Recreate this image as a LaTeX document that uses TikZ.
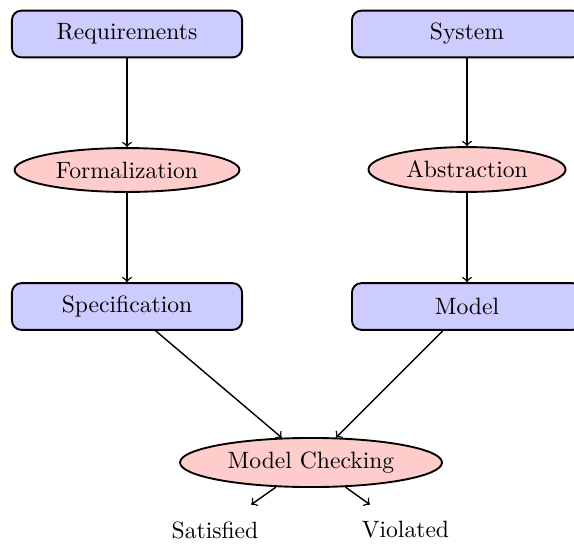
\documentclass[tikz,border=0pt]{standalone}
\usetikzlibrary{shapes.geometric}
\definecolor{boxblue}{RGB}{204,204,255}
\definecolor{ellred}{RGB}{255,204,204}
\tikzset{
  boxnode/.style={rectangle, rounded corners=4pt, draw=black, thick, fill=boxblue,
    minimum width=97.5pt, minimum height=19.8pt, inner sep=0pt},
  ellnode/.style={ellipse, draw=black, thick, fill=ellred, inner sep=0pt},
  resnode/.style={rectangle, inner sep=0pt, minimum height=21.2pt, minimum width=36pt},
  arr/.style={->, semithick}
}
\begin{document}
\begin{tikzpicture}[x=0.4237pt, y=-0.4237pt]
\useasboundingbox (0,0) rectangle (574,545);
\clip (0,0) rectangle (574,545);
\node[boxnode] (req) at (127,34) {Requirements};
\node[boxnode] (sys) at (467,34) {System};
\node[ellnode, minimum width=95.3pt, minimum height=18.6pt] (form) at (127,170) {Formalization};
\node[ellnode, minimum width=83.5pt, minimum height=19pt] (abs) at (467,169.5) {Abstraction};
\node[boxnode] (spec) at (127,306.5) {Specification};
\node[boxnode] (model) at (467,306.5) {Model};
\node[ellnode, minimum width=111pt, minimum height=20.8pt] (mc) at (311,462.5) {Model Checking};
\node[resnode] (sat) at (215,530) {Satisfied};
\node[resnode] (vio) at (405.5,530) {Violated};
\draw[arr] (req) -- (form);
\draw[arr] (form) -- (spec);
\draw[arr] (sys) -- (abs);
\draw[arr] (abs) -- (model);
\draw[arr] (spec) -- (mc);
\draw[arr] (model) -- (mc);
\draw[arr] (mc) -- (sat);
\draw[arr] (mc) -- (vio);
\end{tikzpicture}
\end{document}
